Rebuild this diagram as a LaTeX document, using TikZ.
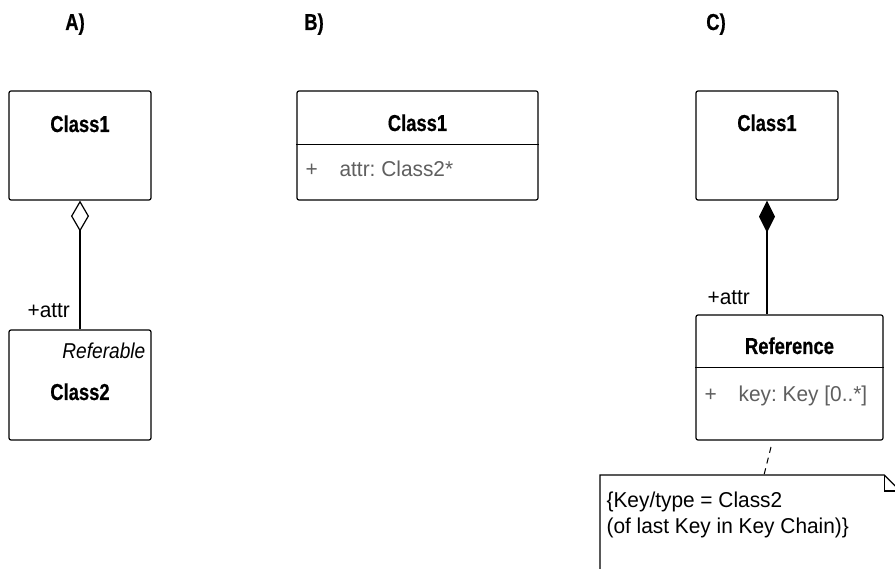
\documentclass[tikz,border=0pt]{standalone}
\usepackage{fontspec}
\setmainfont{Liberation Sans}[FakeStretch=0.97,BoldFeatures={FakeStretch=0.8,FakeBold=0.6},ItalicFeatures={FakeStretch=0.89}]
\usetikzlibrary{arrows.meta,calc}
\definecolor{attrgray}{RGB}{95,95,95}
\frenchspacing
\begin{document}
\begin{tikzpicture}[x=1pt,y=-1pt,line width=1.2pt,
  clsbox/.style={draw,rounded corners=2pt,inner sep=0pt},
  boldtxt/.style={font=\fontsize{23}{27}\selectfont\bfseries,inner sep=0pt},
  regtxt/.style={font=\fontsize{21.5}{25}\selectfont,inner sep=0pt},
  attrtxt/.style={regtxt,text=attrgray},
  ittxt/.style={font=\fontsize{21.5}{25}\selectfont\itshape,inner sep=0pt},
  notedash/.style={dash pattern=on 6pt off 5pt}]
\useasboundingbox (0,0) rectangle (895,569);
\clip (0,0) rectangle (895,569);
% panel labels
\node[boldtxt,anchor=base] (la) at (75,30) {A)};
\node[boldtxt,anchor=base] (lb) at (314,30) {B)};
\node[boldtxt,anchor=base] (lc) at (716,30) {C)};
% ---- A
\node[clsbox,minimum width=142pt,minimum height=109pt] (a1) at (80,145.5) {};
\node[boldtxt,anchor=base] (a1t) at (80,132) {Class1};
\node[clsbox,minimum width=142pt,minimum height=110pt] (a2) at (80,385) {};
\node[ittxt,anchor=base east] (a2s) at (146,359) {Referable};
\node[boldtxt,anchor=base] (a2t) at (80,400) {Class2};
\draw[{Diamond[open,length=31pt,width=18pt]}-] (a1.south) -- (a2.north);
\node[regtxt,anchor=base west] (aattr) at (27,318) {+attr};
% ---- B
\node[clsbox,minimum width=241pt,minimum height=109pt] (b1) at (417.5,145.5) {};
\node[boldtxt,anchor=base] (b1t) at (417.5,131) {Class1};
\draw ($(b1.north west)+(0,54)$) -- ($(b1.north east)+(0,54)$);
\node[attrtxt,anchor=base west] (bplus) at (305,177) {+};
\node[attrtxt,anchor=base west] (battr) at (339,177) {attr: Class2*};
% ---- C
\node[clsbox,minimum width=142pt,minimum height=109pt] (c1) at (767,145.5) {};
\node[boldtxt,anchor=base] (c1t) at (767,131) {Class1};
\node[clsbox,minimum width=187pt,minimum height=125pt] (ref) at (789.5,377.5) {};
\node[boldtxt,anchor=base] (reft) at (789.5,354) {Reference};
\draw ($(ref.north west)+(0,53)$) -- ($(ref.north east)+(0,53)$);
\node[attrtxt,anchor=base west] (rplus) at (704,402) {+};
\node[attrtxt,anchor=base west] (rkey) at (738,402) {key: Key [0..*]};
\draw[{Diamond[length=32pt,width=16pt]}-] (c1.south) -- (c1.south |- ref.north);
\node[regtxt,anchor=base west] (cattr) at (707,305) {+attr};
% note
\node[minimum width=299pt,minimum height=110pt,inner sep=0pt,anchor=north west] (note) at (600,475) {};
\draw (note.south west) -- (note.north west) -- ($(note.north east)+(-16,0)$) -- ($(note.north east)+(0,16)$) -- (note.south east);
\draw ($(note.north east)+(-16,0)$) -- ($(note.north east)+(-16,16)$) -- ($(note.north east)+(0,16)$);
\node[regtxt,anchor=base west] (n1) at (606,507) {\{Key/type = Class2};
\node[regtxt,anchor=base west] (n2) at (606,533) {(of last Key in Key Chain)\}};
\coordinate (nd1) at (771,447);
\draw[notedash,line width=1pt] (nd1) -- ($(note.north west)+(164,0)$);
\end{tikzpicture}
\end{document}
